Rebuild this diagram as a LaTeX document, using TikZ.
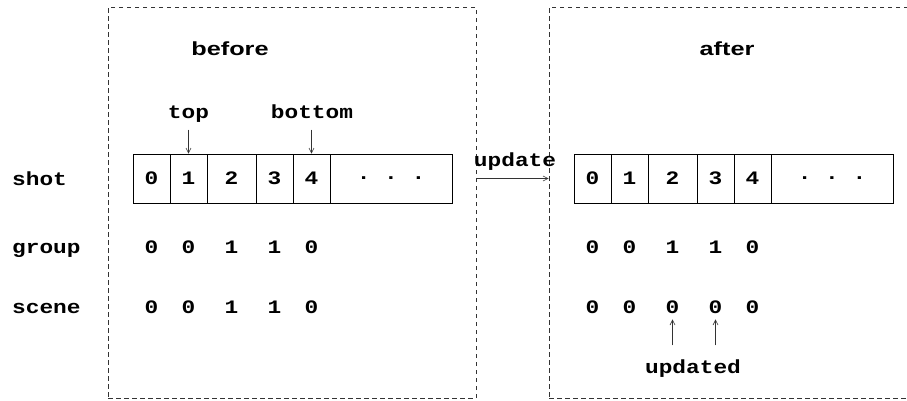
\documentclass[tikz,border=0pt]{standalone}
\usepackage{fontspec}
\newfontfamily\codefont{Liberation Mono}[FakeStretch=1.2]
\newfontfamily\headfont{Liberation Sans}[FakeStretch=1.33]
\usetikzlibrary{positioning,arrows.meta}
\begin{document}
\begin{tikzpicture}[x=1pt, y=-1pt,
    frame/.style={draw=black!80, line width=0.6pt, dash pattern=on 4.5pt off 3.5pt},
    cell/.style={draw, line width=0.6pt, minimum height=49pt, inner sep=0pt, font=\codefont\bfseries\fontsize{19}{19}\selectfont},
    code/.style={inner sep=1pt, anchor=base, font=\codefont\bfseries\fontsize{19}{19}\selectfont},
    row/.style={code, anchor=base west, inner sep=0pt},
    head/.style={anchor=base, font=\headfont\bfseries\fontsize{19}{19}\selectfont},
    ptr/.style={-{Straight Barb[length=5pt, width=5pt]}, line width=0.6pt, black!80}]
\useasboundingbox (0,0) rectangle (907,400);

% dashed frames
\node[frame, minimum width=368pt, minimum height=391pt] (bframe) at (292,202.5) {};
\node[frame, minimum width=368pt, minimum height=391pt] (aframe) at (733,202.5) {};
\node[head] (before) at (230,55) {before};
\node[head] (after) at (727,55) {after};

% row names
\node[row] (shot) at (12,185) {shot};
\node[row] (group) at (12,253) {group};
\node[row] (scene) at (12,313) {scene};

% shot arrays, before and after
\foreach \p/\off in {b/0, a/441} {
  \node[cell, minimum width=37pt] (\p shot0) at (151.5+\off,178.5) {0};
  \node[cell, minimum width=37pt] (\p shot1) at (188.5+\off,178.5) {1};
  \node[cell, minimum width=49pt] (\p shot2) at (231.5+\off,178.5) {2};
  \node[cell, minimum width=37pt] (\p shot3) at (274.5+\off,178.5) {3};
  \node[cell, minimum width=37pt] (\p shot4) at (311.5+\off,178.5) {4};
  \node[cell, minimum width=122pt] (\p dots) at (391+\off,178.5) {.\ .\ .};
}

% group and scene values
\foreach \i/\g/\s in {0/0/0, 1/0/0, 2/1/1, 3/1/1, 4/0/0} {
  \node[code] (bgroup\i) at (bshot\i |- group.base) {\g};
  \node[code] (bscene\i) at (bshot\i |- scene.base) {\s};
  \node[code] (agroup\i) at (ashot\i |- group.base) {\g};
}
\foreach \i/\s in {0/0, 1/0, 2/0, 3/0, 4/0}
  \node[code] (ascene\i) at (ashot\i |- scene.base) {\s};

% pointers
\node[code] (top) at (188.5,118) {top};
\node[code] (bottom) at (312,118) {bottom};
\draw[ptr] (bshot1.north) ++(0,-24) -- (bshot1.north);
\draw[ptr] (bshot4.north) ++(0,-24) -- (bshot4.north);

\node[code] (update) at (515,166) {update};
\draw[ptr] (bframe.east |- ashot0) -- (aframe.west |- ashot0);

\node[code] (updated) at (693,373) {updated};
\draw[ptr, shorten >=5pt] (ascene2.south) ++(0,31) -- (ascene2.south);
\draw[ptr, shorten >=5pt] (ascene3.south) ++(0,31) -- (ascene3.south);
\end{tikzpicture}
\end{document}
